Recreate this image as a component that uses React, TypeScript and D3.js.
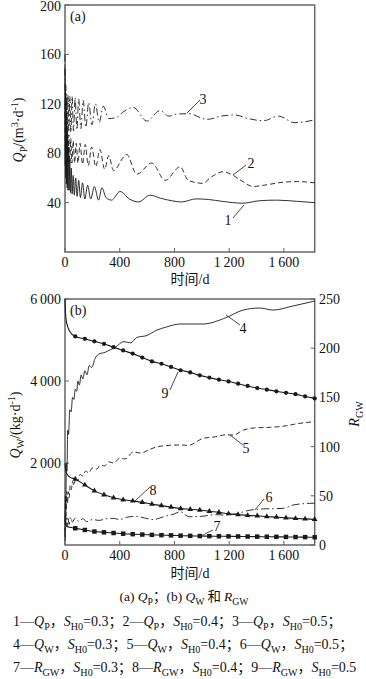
import * as d3 from 'd3';

const SERIF = 'Liberation Serif, DejaVu Serif, serif';
const CJK = 'Noto Sans CJK SC, sans-serif';

// (a) Q_P, m3/d — curve 1, S_H0=0.3
const qp1Days = [0, 2, 4, 6, 8, 10, 13, 16, 19, 22, 26, 30, 35, 40, 46, 52, 60, 68, 78, 88, 100, 113, 128, 145, 165, 188, 215, 245, 270, 300, 340, 402, 470, 537, 622, 700, 780, 850, 958, 1050, 1150, 1300, 1420, 1545, 1700, 1825];
const qp1 = [150, 70, 130, 60, 120, 55, 105, 52, 95, 50, 85, 50, 75, 48, 68, 47, 62, 46, 60, 45, 58, 44, 56, 43, 54, 43, 53, 42, 52, 44, 42, 49, 43, 40.5, 46, 43.5, 41.5, 40.5, 43, 42.5, 41, 39.5, 41.5, 42, 41, 40];
// curve 2, S_H0=0.4
const qp2Days = [0, 4, 8, 12, 17, 22, 28, 35, 42, 50, 60, 70, 82, 95, 110, 128, 148, 170, 195, 225, 255, 290, 320, 354, 451, 524, 634, 732, 842, 900, 1009, 1060, 1156, 1229, 1300, 1375, 1450, 1594, 1700, 1825];
const qp2 = [120, 75, 110, 72, 100, 72, 95, 72, 92, 72, 90, 72, 88, 72, 88, 71, 87, 70, 85, 69, 83, 67, 78, 66, 79, 63, 72, 58, 69, 58, 55.6, 60, 65, 62, 57, 53, 54, 56.5, 57, 56];
// curve 3, S_H0=0.5
const qp3Days = [0, 3, 6, 9, 13, 17, 22, 28, 35, 43, 52, 62, 74, 87, 100, 116, 133, 152, 173, 197, 222, 250, 280, 320, 378, 420, 500, 598, 695, 760, 817, 900, 1040, 1140, 1240, 1340, 1450, 1560, 1680, 1825];
const qp3 = [160, 100, 135, 98, 128, 97, 127, 97, 126, 97, 126, 98, 125, 99, 124, 100, 123, 101, 121, 103, 120, 105, 118, 108, 109, 113, 117, 106, 114.5, 110, 111.7, 112, 107.4, 110, 111, 108, 106.3, 110, 104.7, 107];

// (b) Q_W, kg/d — curves 4, 5, 6
const qw4Days = [0, 3, 6, 10, 14, 20, 26, 35, 45, 55, 65, 75, 85, 95, 105, 118, 130, 145, 160, 178, 195, 220, 244, 293, 330, 366, 430, 480, 524, 598, 671, 744, 842, 1009, 1180, 1302, 1424, 1521, 1667, 1825];
const qw4 = [200, 1200, 900, 2000, 1800, 2800, 2700, 3300, 3250, 3600, 3550, 3800, 3750, 4000, 3900, 4150, 4050, 4250, 4150, 4380, 4330, 4550, 4650, 4700, 4760, 4820, 4960, 4930, 5060, 5110, 5240, 5320, 5390, 5390, 5550, 5730, 5780, 5730, 5830, 5950];
const qw5Days = [0, 4, 8, 13, 18, 24, 30, 38, 46, 55, 65, 78, 92, 110, 130, 150, 175, 200, 230, 260, 290, 320, 354, 402, 440, 500, 560, 598, 695, 842, 900, 1009, 1100, 1180, 1229, 1302, 1400, 1500, 1600, 1700, 1825];
const qw5 = [300, 1000, 700, 1300, 1000, 1300, 1150, 1450, 1350, 1550, 1450, 1650, 1560, 1720, 1680, 1800, 1760, 1880, 1850, 1950, 1930, 2030, 2000, 2120, 2100, 2270, 2240, 2300, 2410, 2440, 2430, 2600, 2640, 2690, 2680, 2800, 2860, 2870, 2900, 2960, 3010];
const qw6Days = [0, 5, 10, 15, 22, 30, 40, 55, 75, 100, 130, 160, 200, 250, 300, 354, 400, 451, 520, 580, 646, 720, 800, 842, 907, 1000, 1100, 1156, 1250, 1351, 1450, 1594, 1667, 1789, 1825];
const qw6 = [100, 500, 700, 450, 680, 500, 680, 560, 660, 580, 640, 570, 620, 600, 640, 650, 620, 675, 700, 660, 620, 690, 760, 810, 690, 700, 740, 732, 760, 850, 880, 894, 976, 1016, 1020];

// (b) R_GW — curves 7, 8, 9 (start of run, then the marked days)
const rHeadDays = [0, 4, 12, 35];
const r7Head = [30, 22, 19, 18];
const r8Head = [83, 78, 73, 69];
const r9Head = [250, 235, 226, 217];
const markDays = [75, 145, 215, 285, 355, 425, 495, 565, 635, 705, 775, 845, 915, 985, 1055, 1125, 1195, 1265, 1335, 1405, 1475, 1545, 1615, 1685, 1755, 1825];
const r7 = [17, 15.3, 13.7, 12.9, 12.2, 11.5, 11, 10.6, 10.3, 10, 9.8, 9.5, 9.3, 9.1, 9, 8.9, 8.8, 8.7, 8.6, 8.5, 8.4, 8.3, 8.2, 8.1, 8, 7.9];
const r8 = [67, 61, 55, 51, 48, 46, 44.8, 43.3, 41.5, 40, 38.5, 37, 36.3, 35.5, 34.3, 33.2, 31.8, 31, 30, 29.7, 28.9, 28.3, 27.6, 27, 26.5, 26];
const r9 = [212, 209.5, 207, 204.3, 201, 197.7, 194.5, 190.5, 186.6, 184.2, 181, 177.6, 175.4, 172.4, 170.1, 168, 166.2, 163.9, 161.6, 159.5, 157.9, 156.2, 154.7, 153.3, 151, 149];

const xTicks = [0, 400, 800, 1200, 1600];
const xTickLabels = ['0', '400', '800', '1\u2009200', '1\u2009600'];
const qpTicks = [40, 80, 120, 160, 200];
const qwTicks = [2000, 4000, 6000];
const qwTickLabels = ['2\u2009000', '4\u2009000', '6\u2009000'];
const rTicks = [0, 50, 100, 150, 200, 250];

const legendVar = ['Q', 'Q', 'Q', 'Q', 'Q', 'Q', 'R', 'R', 'R'];
const legendSub = ['P', 'P', 'P', 'W', 'W', 'W', 'GW', 'GW', 'GW'];
const legendS = ['0.3', '0.4', '0.5', '0.3', '0.4', '0.5', '0.3', '0.4', '0.5'];

type Seg = [string, string?];

function Rich({ x, y, segs, size, anchor = 'start', transform }: { x: number; y: number; segs: Seg[]; size: number; anchor?: string; transform?: string }) {
  let shift = 0;
  const kids = segs.map(([txt, f = ''], k) => {
    const small = f.includes('b') || f.includes('p');
    const target = f.includes('b') ? size * 0.28 : f.includes('p') ? -size * 0.38 : 0;
    const dy = target - shift;
    shift = target;
    return (
      <tspan key={k} dy={dy} style={{
        fontStyle: f.includes('i') ? 'italic' : 'normal',
        fontSize: small ? size * 0.72 : size,
        fontFamily: f.includes('c') ? CJK : SERIF,
      }}>
        {txt}
      </tspan>
    );
  });
  return (
    <text x={x} y={y} textAnchor={anchor} transform={transform} fill="#111" style={{ fontFamily: SERIF, fontSize: size }}>
      {kids}
    </text>
  );
}

export default function App() {
  const x = d3.scaleLinear().domain([0, 1825]).range([65, 314.7]);
  const yA = d3.scaleLinear().domain([0, 200]).range([252, 5]);
  const yW = d3.scaleLinear().domain([0, 6000]).range([545, 299]);
  const yR = d3.scaleLinear().domain([0, 250]).range([545, 299]);

  const path = (days: number[], vals: number[], y: d3.ScaleLinear<number, number>) =>
    d3.line<number>().x((_, i) => x(days[i])).y(v => y(v)).curve(d3.curveMonotoneX)(vals) || '';

  const ink = '#1a1a1a';
  const axis = '#666';
  const tickLen = 4;
  const tf = { fontFamily: SERIF, fontSize: 14 };

  const rSeries = [
    { head: r7Head, vals: r7, sym: d3.symbolSquare, size: 20 },
    { head: r8Head, vals: r8, sym: d3.symbolTriangle, size: 14 },
    { head: r9Head, vals: r9, sym: d3.symbolCircle, size: 14 },
  ];

  const leaders = [
    { n: '1', x1: 233, y1: 218, x2: 244, y2: 205, tx: 228, ty: 225 },
    { n: '2', x1: 233, y1: 175, x2: 246, y2: 165, tx: 251, ty: 168 },
    { n: '3', x1: 187, y1: 113, x2: 200, y2: 100, tx: 203, ty: 104 },
    { n: '4', x1: 226, y1: 315, x2: 240, y2: 325, tx: 243, ty: 333 },
    { n: '5', x1: 230, y1: 435, x2: 243, y2: 445, tx: 246, ty: 453 },
    { n: '6', x1: 255, y1: 510, x2: 264, y2: 499, tx: 269, ty: 502 },
    { n: '7', x1: 201, y1: 536, x2: 213, y2: 530, tx: 217, ty: 531 },
    { n: '8', x1: 135, y1: 501, x2: 150, y2: 487, tx: 153, ty: 495 },
    { n: '9', x1: 178, y1: 372, x2: 170, y2: 390, tx: 165, ty: 398 },
  ];

  return (
    <svg width={366} height={679} style={{ position: 'absolute', left: 0, top: 0, background: '#fff' }}>
      {/* panel (a) */}
      <rect x={65} y={5} width={249.7} height={247} fill="none" stroke={axis} strokeWidth={1.5} />
      {qpTicks.map(t => (
        <g key={t}>
          <line x1={65} x2={65 + tickLen} y1={yA(t)} y2={yA(t)} stroke={axis} strokeWidth={1} />
          <text x={61} y={Math.max(yA(t) + 5, 11)} textAnchor="end" style={tf} fill="#111">{t}</text>
        </g>
      ))}
      {xTicks.map((t, i) => (
        <g key={t}>
          <line x1={x(t)} x2={x(t)} y1={252} y2={252 - tickLen} stroke={axis} strokeWidth={1} />
          <text x={x(t)} y={267} textAnchor="middle" style={tf} fill="#111">{xTickLabels[i]}</text>
        </g>
      ))}
      <path d={path(qp1Days, qp1, yA)} fill="none" stroke={ink} strokeWidth={0.9} />
      <path d={path(qp2Days, qp2, yA)} fill="none" stroke={ink} strokeWidth={0.9} strokeDasharray="5,3" />
      <path d={path(qp3Days, qp3, yA)} fill="none" stroke={ink} strokeWidth={0.9} strokeDasharray="7,3,1.5,3" />
      <Rich x={70} y={21} size={14} segs={[['(a)']]} />
      <Rich x={0} y={0} size={14} anchor="middle" transform="translate(23,130) rotate(-90)"
        segs={[['Q', 'i'], ['P', 'b'], ['/(m'], ['3', 'p'], ['·d'], ['-1', 'p'], [')']]} />
      <Rich x={190} y={284} size={14} anchor="middle" segs={[['时间', 'c'], ['/d']]} />

      {/* panel (b) */}
      <rect x={65} y={299} width={249.7} height={246} fill="none" stroke={axis} strokeWidth={1.5} />
      {qwTicks.map((t, i) => (
        <g key={t}>
          <line x1={65} x2={65 + tickLen} y1={yW(t)} y2={yW(t)} stroke={axis} strokeWidth={1} />
          <text x={61} y={yW(t) + 5} textAnchor="end" style={tf} fill="#111">{qwTickLabels[i]}</text>
        </g>
      ))}
      {rTicks.map(t => (
        <g key={t}>
          <line x1={314.7} x2={314.7 - tickLen} y1={yR(t)} y2={yR(t)} stroke={axis} strokeWidth={1} />
          <text x={319} y={yR(t) + 5} textAnchor="start" style={tf} fill="#111">{t}</text>
        </g>
      ))}
      {xTicks.map((t, i) => (
        <g key={'b' + t}>
          <line x1={x(t)} x2={x(t)} y1={545} y2={545 - tickLen} stroke={axis} strokeWidth={1} />
          <text x={x(t)} y={560} textAnchor="middle" style={tf} fill="#111">{xTickLabels[i]}</text>
        </g>
      ))}
      <path d={path(qw4Days, qw4, yW)} fill="none" stroke={ink} strokeWidth={0.9} />
      <path d={path(qw5Days, qw5, yW)} fill="none" stroke={ink} strokeWidth={0.9} strokeDasharray="5,3" />
      <path d={path(qw6Days, qw6, yW)} fill="none" stroke={ink} strokeWidth={0.9} strokeDasharray="8,3,1.5,3" />
      {rSeries.map((s, k) => {
        const days = rHeadDays.concat(markDays);
        const vals = s.head.concat(s.vals);
        const sym = d3.symbol().type(s.sym).size(s.size)() || '';
        return (
          <g key={k}>
            <path d={path(days, vals, yR)} fill="none" stroke={ink} strokeWidth={1.1} />
            {s.vals.map((v, i) => (
              <path key={i} d={sym} transform={`translate(${x(markDays[i])},${yR(v)})`} fill={ink} />
            ))}
          </g>
        );
      })}
      <Rich x={70} y={315} size={14} segs={[['(b)']]} />
      <Rich x={0} y={0} size={14} anchor="middle" transform="translate(20,425) rotate(-90)"
        segs={[['Q', 'i'], ['W', 'b'], ['/(kg·d'], ['-1', 'p'], [')']]} />
      <Rich x={0} y={0} size={14} anchor="middle" transform="translate(359,414) rotate(-90)"
        segs={[['R', 'i'], ['GW', 'b']]} />
      <Rich x={190} y={578} size={14} anchor="middle" segs={[['时间', 'c'], ['/d']]} />

      {leaders.map(l => (
        <g key={l.n}>
          <line x1={l.x1} y1={l.y1} x2={l.x2} y2={l.y2} stroke={ink} strokeWidth={0.8} />
          <text x={l.tx} y={l.ty} textAnchor="middle" style={tf} fill="#111">{l.n}</text>
        </g>
      ))}

      {/* caption and legend */}
      <Rich x={184} y={601} size={13.5} anchor="middle"
        segs={[['(a) '], ['Q', 'i'], ['P', 'b'], ['；', 'c'], ['(b) '], ['Q', 'i'], ['W', 'b'], [' 和 ', 'c'], ['R', 'i'], ['GW', 'b']]} />
      {[0, 1, 2].map(row => {
        const segs: Seg[] = [];
        [0, 1, 2].forEach(c => {
          const k = row * 3 + c;
          segs.push([`${k + 1}—`], [legendVar[k], 'i'], [legendSub[k], 'b'], ['，', 'c'], ['S', 'i'], ['H0', 'b'], [`=${legendS[k]}`]);
          if (k < 8) segs.push(['；', 'c']);
        });
        return <Rich key={row} x={13} y={626 + row * 23} size={14} segs={segs} />;
      })}
    </svg>
  );
}
